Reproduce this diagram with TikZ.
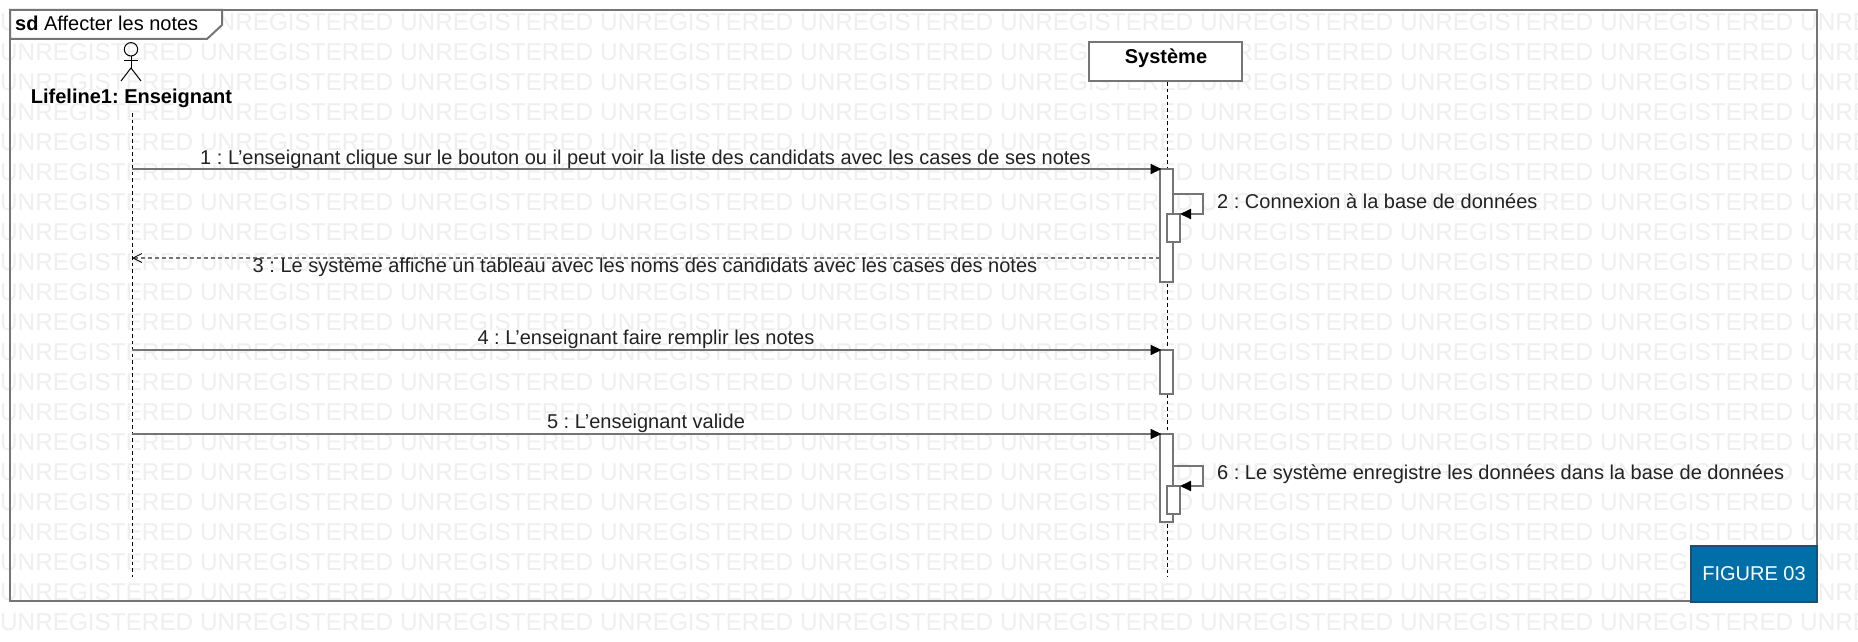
\documentclass[tikz,border=0pt]{standalone}
\usepackage{fontspec}
\setmainfont{Liberation Sans}
\usetikzlibrary{arrows.meta}
\frenchspacing
\definecolor{framegray}{HTML}{757575}
\definecolor{markgray}{HTML}{EFEFEF}
\definecolor{textgray}{HTML}{222222}
\definecolor{figureblue}{HTML}{006FA8}
\definecolor{figureline}{HTML}{1F4E70}
\newcommand{\figurescale}{1pt}
\newcommand{\makeactivation}[4]{
	\node[activation, minimum height=#4*\figurescale] (#1) at (#2,#3+#4/2) {};
}
\tikzset{
	activation/.style={draw=framegray, fill=white, line width=2pt, minimum width=13pt, inner sep=0pt, outer sep=0pt},
	lifeline/.style={black, line width=1pt, dash pattern=on 3.5pt off 3pt},
	message/.style={draw=framegray, line width=2pt, -{Triangle[black,length=11pt,width=10pt]}},
	answer/.style={draw=framegray, line width=1.6pt, dash pattern=on 4pt off 3pt, -{Straight Barb[black,length=9pt,width=9pt,line width=.8pt]}},
	msglabel/.style={text=textgray, font=\fontsize{20}{24}\selectfont, inner sep=0pt},
}
\begin{document}
\begin{tikzpicture}[x=\figurescale,y=-\figurescale]
	\useasboundingbox (0,0) rectangle (1858,642);
	\fill[white] (0,0) rectangle (1858,642);

	% watermark
	\foreach \row in {0,...,20}
		\foreach \col in {0,...,9}
			\node[text=markgray, font=\fontsize{24.3}{30}\selectfont, anchor=west, inner sep=0pt] (wm\row-\col) at (\col*200,22+\row*30) {UNREGISTERED};

	% frame and tab
	\draw[framegray, line width=2pt] (10,10) rectangle (1817,601);
	\draw[framegray, line width=2pt, fill=white] (10,10) -- (222,10) -- (222,25) -- (207,39) -- (10,39) -- cycle;
	\node[text=black, font=\fontsize{20}{24}\selectfont, anchor=west, inner sep=0pt] (title) at (15,23) {\textbf{sd} Affecter les notes};

	% actor
	\coordinate (neck) at (131,56);
	\coordinate (hip) at (131,68);
	\draw[black, line width=1pt] (131,49.3) circle (6.7);
	\draw[black, line width=1pt] (neck) -- (hip);
	\draw[black, line width=1pt] (124,61) -- (138,61);
	\draw[black, line width=1pt] (121,81) -- (hip) -- (141,81);
	\node[text=black, font=\bfseries\fontsize{20}{24}\selectfont, inner sep=0pt] (actor) at (131.5,98.5) {Lifeline1: Enseignant};

	% lifelines
	\coordinate (ensStart) at (132.5,113);
	\coordinate (ensEnd) at (132.5,577);
	\coordinate (sysEnd) at (1167,577);
	\draw[lifeline] (ensStart) -- (ensEnd);
	\node[draw=framegray, fill=white, line width=2pt, minimum width=153pt, minimum height=39pt, inner sep=0pt] (system) at (1165.5,61.5) {};
	\node[text=black, font=\bfseries\fontsize{20}{24}\selectfont, inner sep=0pt] (systemname) at (1166,58) {Système};
	\draw[lifeline] (system.south -| sysEnd) -- (sysEnd);

	% activations
	\makeactivation{actA}{1166.5}{169}{113}
	\makeactivation{actAb}{1173.5}{214}{28}
	\makeactivation{actB}{1166.5}{350}{44}
	\makeactivation{actC}{1166.5}{434}{88}
	\makeactivation{actCb}{1173.5}{486}{28}

	% messages
	\coordinate (m1) at (132,169);
	\coordinate (m3) at (132,258);
	\coordinate (m4) at (132,350);
	\coordinate (m5) at (132,434);
	\draw[message, shorten >=-1.5pt] (m1) -- (actA.north west);
	\draw[answer] (actA.west |- m3) -- (m3);
	\draw[message, shorten >=-1.5pt] (m4) -- (actB.north west);
	\draw[message, shorten >=-1.5pt] (m5) -- (actC.north west);

	% self calls
	\coordinate (s2a) at (1173,194);
	\coordinate (s2b) at (1203,194);
	\coordinate (s2c) at (1203,214);
	\coordinate (s6a) at (1173,466);
	\coordinate (s6b) at (1203,466);
	\coordinate (s6c) at (1203,486);
	\draw[message] (s2a) -- (s2b) -- (s2c) -- (actAb.north east);
	\draw[message] (s6a) -- (s6b) -- (s6c) -- (actCb.north east);

	% labels
	\node[msglabel] (l1) at (645.5,159.5) {1 : L’enseignant clique sur le bouton ou il peut voir la liste des candidats avec les cases de ses notes};
	\node[msglabel, anchor=west] (l2) at (1217,201.5) {2 : Connexion à la base de données};
	\node[msglabel] (l3) at (645,267) {3 : Le système affiche un tableau avec les noms des candidats avec les cases des notes};
	\node[msglabel] (l4) at (646,339.5) {4 : L’enseignant faire remplir les notes};
	\node[msglabel] (l5) at (646,423.5) {5 : L’enseignant valide};
	\node[msglabel, anchor=west] (l6) at (1217,474.5) {6 : Le système enregistre les données dans la base de données};

	% figure tag
	\node[draw=figureline, fill=figureblue, line width=1.5pt, minimum width=126pt, minimum height=56pt, inner sep=0pt, text=white, font=\fontsize{20}{24}\selectfont] (figtag) at (1754,574) {FIGURE 03};
\end{tikzpicture}
\end{document}
